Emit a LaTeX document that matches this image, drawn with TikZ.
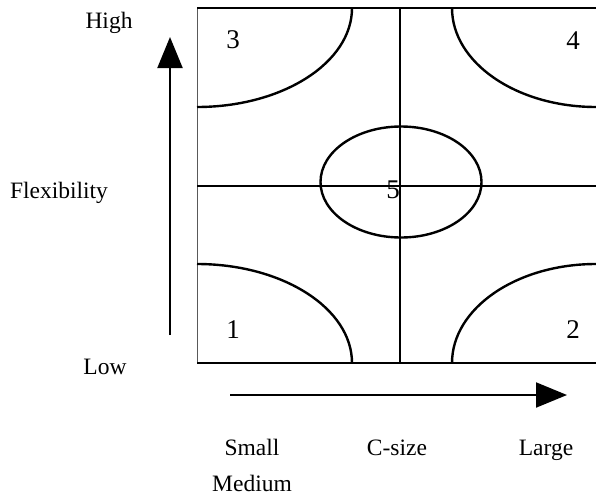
\documentclass[tikz,border=0pt]{standalone}
\usepackage{fontspec}
\setmainfont{Liberation Serif}
\usetikzlibrary{arrows.meta}
\begin{document}
\begin{tikzpicture}[x=1pt,y=-1pt,
  lbl/.style={inner sep=0pt,font=\fontsize{23.5}{26}\selectfont},
  num/.style={inner sep=0pt,font=\fontsize{27}{30}\selectfont},
  gridline/.style={line width=2pt,black},
  curve/.style={line width=2.4pt,black},
  axisarrow/.style={line width=2pt,-{Triangle[length=31pt,width=25pt]}}]
\useasboundingbox (0,0) rectangle (596,498);
% frame and grid
\coordinate (tl) at (197,8);
\coordinate (tr) at (596,8);
\coordinate (bl) at (197,363);
\coordinate (br) at (596,363);
\coordinate (mt) at (400,8);
\coordinate (mb) at (400,363);
\coordinate (ml) at (197,186);
\coordinate (mr) at (596,186);
\draw[line width=1pt,gray!70!black] (tl) -- (bl);
\draw[gridline] (tl) -- (tr);
\draw[gridline] (bl) -- (br);
\draw[gridline] (mt) -- (mb);
\draw[gridline] (ml) -- (mr);
% corner curves
\draw[curve] (197,107) arc[start angle=90,end angle=0,x radius=155,y radius=99];
\draw[curve] (452,8) arc[start angle=180,end angle=90,x radius=144,y radius=99];
\draw[curve] (197,264) arc[start angle=270,end angle=360,x radius=155,y radius=99];
\draw[curve] (452,363) arc[start angle=180,end angle=270,x radius=144,y radius=99];
% centre ellipse
\draw[curve] (401,182) ellipse[x radius=80.5,y radius=55.5];
% numbers
\node[num] (n3) at (233,40) {3};
\node[num] (n4) at (573,41) {4};
\node[num] (n1) at (233,330) {1};
\node[num] (n2) at (573,330) {2};
\node[num] (n5) at (393,190) {5};
% axis labels
\node[lbl] (high) at (109,23) {High};
\node[lbl] (flex) at (59,193) {Flexibility};
\node[lbl] (low) at (105,367) {Low};
\node[lbl,anchor=base] (small) at (252,455) {Small};
\node[lbl,anchor=base] (csize) at (397,455) {C-size};
\node[lbl,anchor=base] (large) at (546,455) {Large};
\node[lbl,anchor=base] (medium) at (252,491) {Medium};
% arrows
\coordinate (va) at (170,335);
\coordinate (vb) at (170,37);
\coordinate (ha) at (230,395);
\coordinate (hb) at (567,395);
\draw[axisarrow] (va) -- (vb);
\draw[axisarrow] (ha) -- (hb);
\end{tikzpicture}
\end{document}
